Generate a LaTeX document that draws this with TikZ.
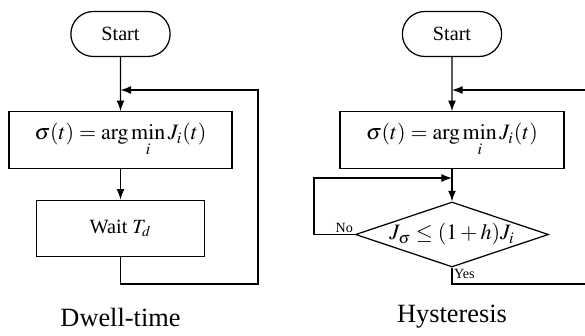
\documentclass[tikz,border=0pt]{standalone}
\usepackage{mathptmx}
\usepackage{fontspec}
\setmainfont{Liberation Serif}
\usetikzlibrary{arrows.meta, positioning, shapes.geometric, shapes.misc}

\begin{document}
\begin{tikzpicture}[
  line/.style={line width=0.7pt},
  arr/.style={line, -{Latex[length=6pt, width=4.5pt]}},
  term/.style={rounded rectangle, draw, line, minimum width=2.22cm, minimum height=0.9cm,
    font=\fontsize{11.5}{13}\selectfont},
  proc/.style={rectangle, draw, line, minimum height=1.13cm, font=\fontsize{11.5}{13}\selectfont},
  eq/.style={font=\fontsize{12.5}{14}\selectfont},
  cond/.style={diamond, draw, line, aspect=2.97, inner sep=0pt, minimum width=3.86cm,
    minimum height=1.3cm, font=\fontsize{12.5}{14}\selectfont},
  caption/.style={font=\fontsize{15}{17}\selectfont},
  tag/.style={font=\fontsize{8}{9}\selectfont, inner sep=1pt}
]
  \useasboundingbox (0,0) rectangle (11.70,6.70);
  % Dwell-time
  \node[term] (start1) at (2.41,6.02) {Start};
  \node[proc, eq, minimum width=4.46cm] (argmin1) at (2.41,3.90) {$\sigma(t) = \arg\min\limits_i J_i(t)$};
  \node[proc, minimum width=3.36cm] (wait) at (2.41,2.13) {Wait $T_d$};
  \node[caption] (lbl1) at (2.41,0.36) {Dwell-time};
  \coordinate (m1) at (2.41,4.90);
  \coordinate (c1) at (5.16,1.02);
  \draw[arr] (start1) -- (argmin1);
  \draw[arr] (argmin1) -- (wait);
  \draw[arr] (wait.south) |- (c1) -- (c1 |- m1) -- (m1);
  % Hysteresis
  \node[term] (start2) at (9.04,6.02) {Start};
  \node[proc, eq, minimum width=4.48cm] (argmin2) at (9.04,3.90) {$\sigma(t) = \arg\min\limits_i J_i(t)$};
  \node[cond] (check) at (9.04,2.01) {$J_\sigma \leq (1+h)J_i$};
  \node[caption] (lbl2) at (9.04,0.36) {Hysteresis};
  \node[tag, above left] (no) at (check.west) {No};
  \node[tag, below right] (yes) at (check.south) {Yes};
  \coordinate (m2) at (9.04,4.90);
  \coordinate (e2) at (11.70,4.90);
  \coordinate (m3) at (9.04,3.14);
  \coordinate (n1) at (6.28,3.14);
  \coordinate (e3) at (11.70,1.02);
  \draw[arr] (start2) -- (argmin2);
  \draw[arr] (e2) -- (m2);
  \draw[arr] (argmin2) -- (check);
  \draw[arr] (check.west) -| (n1) -- (m3);
  \draw[line] (check.south) |- (e3);
\end{tikzpicture}
\end{document}
